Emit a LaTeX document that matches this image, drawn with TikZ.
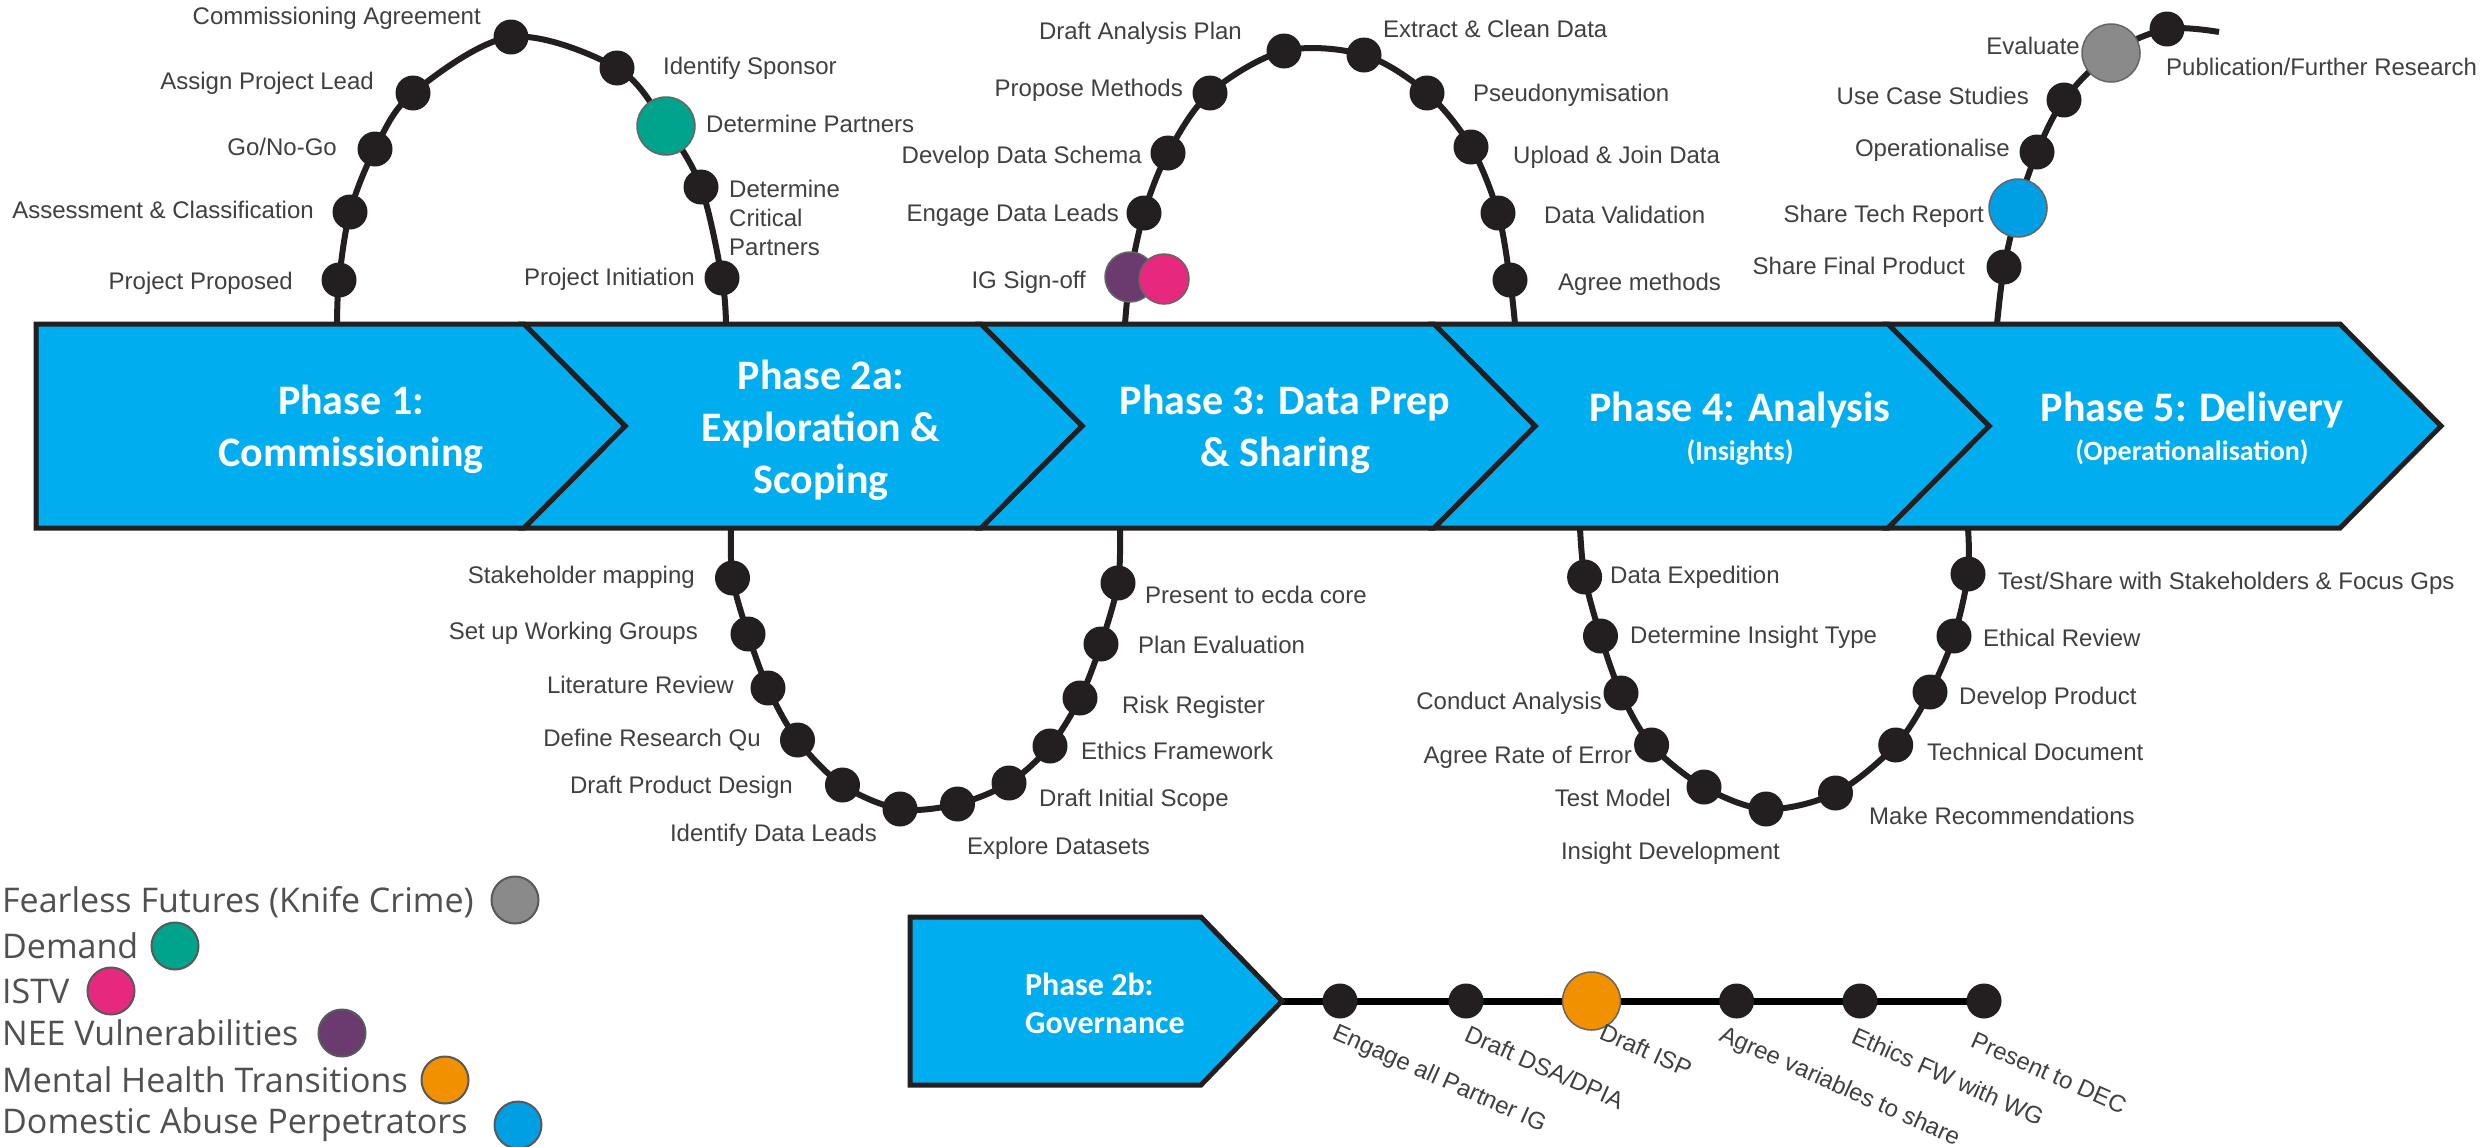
\documentclass[tikz,border=0pt]{standalone}
\usepackage{fontspec}
\setmainfont{Liberation Sans}
\newfontfamily\calfont{Carlito}
\newfontfamily\legfont{Open Sans}
\usetikzlibrary{backgrounds}
\definecolor{band}{HTML}{00AEEF}
\definecolor{ink}{HTML}{231F20}
\definecolor{txt}{HTML}{404040}
\definecolor{legtxt}{HTML}{505050}
\definecolor{cgray}{HTML}{8A8A8A}
\definecolor{cteal}{HTML}{00A38B}
\definecolor{cpink}{HTML}{E6287F}
\definecolor{cpurple}{HTML}{6B3A6E}
\definecolor{corange}{HTML}{F29100}
\definecolor{cblue}{HTML}{009FE3}
\newcommand\mylabE[3]{\node[lbl,anchor=east] (#1) at (#2) {#3};}
\newcommand\mylabW[3]{\node[lbl,anchor=west] (#1) at (#2) {#3};}
\begin{document}
\begin{tikzpicture}[x=1pt,y=-1pt,
 blackdot/.style={circle, fill=ink, minimum size=35pt, inner sep=0pt},
 bigdot/.style={circle, draw=black!60, line width=1.5pt, minimum size=58pt, inner sep=0pt},
 meddot/.style={circle, draw=black!60, line width=1.5pt, minimum size=50pt, inner sep=0pt},
 legdot/.style={circle, draw=black!65, line width=2pt, minimum size=47pt, inner sep=0pt},
 lbl/.style={font=\fontsize{24}{29}\selectfont, text=txt, inner sep=0pt, text height=17pt, text depth=5pt},
 lblml/.style={font=\fontsize{24}{29}\selectfont, text=txt, inner sep=0pt, align=left},
 rlbl/.style={font=\fontsize{24}{29}\selectfont, text=txt, inner sep=0pt, rotate=-24, anchor=north west},
 track/.style={draw=ink, line width=6pt},
 chev/.style={fill=band, draw=ink, line width=5pt, line join=miter},
 phase/.style={font=\calfont\bfseries\fontsize{42}{52}\selectfont, text=white, align=center, inner sep=0pt},
 phasesub/.style={font=\calfont\bfseries\fontsize{28}{32}\selectfont, text=white, inner sep=0pt},
 gphase/.style={font=\calfont\bfseries\fontsize{32}{38}\selectfont, text=white, align=left, inner sep=0pt},
 legtext/.style={font=\legfont\fontsize{34}{40}\selectfont, text=legtxt, inner sep=0pt, anchor=west}
]
\useasboundingbox (0,0) rectangle (2484,1146);
\begin{scope}[on background layer]
\fill[white] (0,0) rectangle (2484,1146);
\end{scope}

% ---------- main band ----------
\draw[chev] (1888,324) -- (2340,324) -- (2441,426) -- (2340,528) -- (1888,528) -- (1989,426) -- cycle;
\draw[chev] (1434,324) -- (1888,324) -- (1989,426) -- (1888,528) -- (1434,528) -- (1535,426) -- cycle;
\draw[chev] (981,324) -- (1434,324) -- (1535,426) -- (1434,528) -- (981,528) -- (1082,426) -- cycle;
\draw[chev] (524,324) -- (981,324) -- (1082,426) -- (981,528) -- (524,528) -- (625,426) -- cycle;
\draw[chev] (36,324) -- (524,324) -- (625,426) -- (524,528) -- (36,528) -- cycle;

\node[phase] (p1) at (351,429) {Phase 1:\\Commissioning};
\node[phase] (p2a) at (821,430) {Phase 2a:\\Exploration \&\\Scoping};
\node[phase] (p3) at (1285,429) {Phase 3: Data Prep\\\& Sharing};
\node[phase] (p4) at (1740,410) {Phase 4: Analysis};
\node[phasesub] (p4s) at (1740,452) {(Insights)};
\node[phase] (p5) at (2192,410) {Phase 5: Delivery};
\node[phasesub] (p5s) at (2192,452) {(Operationalisation)};

% ---------- Phase 2b ----------
\draw[chev] (910,917) -- (1201,917) -- (1282,1001) -- (1201,1085) -- (910,1085) -- cycle;
\coordinate (gtip) at (1282,1001);
\node[gphase, anchor=west] (p2b) at (1025,1003) {Phase 2b:\\Governance};

% ---------- loop 1 ----------
\coordinate (a0) at (337,324);
\node[blackdot] (a1) at (339,280) {};
\node[blackdot] (a2) at (350,212) {};
\node[blackdot] (a3) at (375,149) {};
\node[blackdot] (a4) at (413,93) {};
\node[blackdot] (a5) at (511,37) {};
\node[blackdot] (a6) at (617,68) {};
\node[bigdot, fill=cteal] (a7) at (666,126) {};
\node[blackdot] (a8) at (701,187) {};
\node[blackdot] (a9) at (722,278) {};
\coordinate (a10) at (726,324);
\mylabE{ta1}{293,283}{Project Proposed}
\mylabE{ta2}{314,212}{Assessment \& Classification}
\mylabE{ta3}{337,149}{Go/No-Go}
\mylabE{ta4}{374,83}{Assign Project Lead}
\mylabE{ta5}{481,18}{Commissioning Agreement}
\mylabW{ta6}{663,68}{Identify Sponsor}
\mylabW{ta7}{706,126}{Determine Partners}
\node[lblml, anchor=west] (ta8) at (729,218) {Determine\\Critical\\Partners};
\mylabE{ta9}{695,279}{Project Initiation}

% ---------- loop 2 ----------
\coordinate (b0) at (1125,324);
\node[meddot, fill=cpurple] (b1) at (1130,277) {};
\node[meddot, fill=cpink] (b1x) at (1164,279) {};
\node[blackdot] (b2) at (1144,213) {};
\node[blackdot] (b3) at (1168,153) {};
\node[blackdot] (b4) at (1210,93) {};
\node[blackdot] (b5) at (1284,51) {};
\node[blackdot] (b6) at (1364,55) {};
\node[blackdot] (b7) at (1427,93) {};
\node[blackdot] (b8) at (1471,147) {};
\node[blackdot] (b9) at (1498,213) {};
\node[blackdot] (b10) at (1510,280) {};
\coordinate (b11) at (1515,324);
\mylabE{tb1}{1086,282}{IG Sign-off}
\mylabE{tb2}{1119,215}{Engage Data Leads}
\mylabE{tb3}{1142,157}{Develop Data Schema}
\mylabE{tb4}{1183,90}{Propose Methods}
\mylabE{tb5}{1242,33}{Draft Analysis Plan}
\mylabW{tb6}{1383,31}{Extract \& Clean Data}
\mylabW{tb7}{1473,95}{Pseudonymisation}
\mylabW{tb8}{1513,157}{Upload \& Join Data}
\mylabW{tb9}{1544,217}{Data Validation}
\mylabW{tb10}{1558,284}{Agree methods}

% ---------- loop 3 ----------
\coordinate (c0) at (1997,324);
\node[blackdot] (c1) at (2004,267) {};
\node[bigdot, fill=cblue] (c2) at (2018,208) {};
\node[blackdot] (c3) at (2037,152) {};
\node[blackdot] (c4) at (2064,100) {};
\node[bigdot, fill=cgray] (c5) at (2111,53) {};
\node[blackdot] (c6) at (2167,29) {};
\coordinate (c7) at (2219,32);
\mylabE{tc1}{1965,268}{Share Final Product}
\mylabE{tc2}{1984,216}{Share Tech Report}
\mylabE{tc3}{2010,150}{Operationalise}
\mylabE{tc4}{2029,98}{Use Case Studies}
\mylabE{tc5}{2080,48}{Evaluate}
\mylabW{tc6}{2166,69}{Publication/Further Research}

% ---------- bottom loop A ----------
\coordinate (d0) at (731,528);
\node[blackdot] (d1) at (732.5,578) {};
\node[blackdot] (d2) at (748,634) {};
\node[blackdot] (d3) at (768,688) {};
\node[blackdot] (d4) at (797.5,740) {};
\node[blackdot] (d5) at (842.5,785) {};
\node[blackdot] (d6) at (900,809) {};
\node[blackdot] (d7) at (957.5,804) {};
\node[blackdot] (d8) at (1009,783) {};
\node[blackdot] (d9) at (1050,746) {};
\node[blackdot] (d10) at (1080,698) {};
\node[blackdot] (d11) at (1101,644) {};
\node[blackdot] (d12) at (1118,583) {};
\coordinate (d13) at (1120,528);
\mylabE{td1}{695,577}{Stakeholder mapping}
\mylabE{td2}{698,633}{Set up Working Groups}
\mylabE{td3}{734,687}{Literature Review}
\mylabE{td4}{761,740}{Define Research Qu}
\mylabE{td5}{793,787}{Draft Product Design}
\mylabE{td6}{877,835}{Identify Data Leads}
\mylabW{td7}{967,848}{Explore Datasets}
\mylabW{td8}{1039,800}{Draft Initial Scope}
\mylabW{td9}{1081,753}{Ethics Framework}
\mylabW{td10}{1122,707}{Risk Register}
\mylabW{td11}{1138,647}{Plan Evaluation}
\mylabW{td12}{1145,597}{Present to ecda core}

% ---------- bottom loop B ----------
\coordinate (e0) at (1580,528);
\node[blackdot] (e1) at (1584.6,577) {};
\node[blackdot] (e2) at (1600.5,636) {};
\node[blackdot] (e3) at (1621,693) {};
\node[blackdot] (e4) at (1651.6,745) {};
\node[blackdot] (e5) at (1704,787) {};
\node[blackdot] (e6) at (1766,809) {};
\node[blackdot] (e7) at (1835.5,793) {};
\node[blackdot] (e8) at (1895.7,745) {};
\node[blackdot] (e9) at (1930,692) {};
\node[blackdot] (e10) at (1954,636) {};
\node[blackdot] (e11) at (1968,574) {};
\coordinate (e12) at (1968,528);
\mylabW{te1}{1610,577}{Data Expedition}
\mylabW{te2}{1630,637}{Determine Insight Type}
\mylabE{te3}{1602,703}{Conduct Analysis}
\mylabE{te4}{1632,757}{Agree Rate of Error}
\mylabE{te5}{1671,800}{Test Model}
\mylabE{te6}{1780,853}{Insight Development}
\mylabW{te7}{1869,818}{Make Recommendations}
\mylabW{te8}{1927,754}{Technical Document}
\mylabW{te9}{1959,698}{Develop Product}
\mylabW{te10}{1983,640}{Ethical Review}
\mylabW{te11}{1998,583}{Test/Share with Stakeholders \& Focus Gps}

% ---------- governance line ----------
\node[blackdot] (g1) at (1340,1001) {};
\node[blackdot] (g2) at (1466,1001) {};
\node[bigdot, fill=corange] (g3) at (1591.5,1001) {};
\node[blackdot] (g4) at (1736.6,1001) {};
\node[blackdot] (g5) at (1860,1001) {};
\node[blackdot] (g6) at (1984,1001) {};
\node[rlbl] (tg1) at (1338,1022) {Engage all Partner IG};
\node[rlbl] (tg2) at (1470,1024) {Draft DSA/DPIA};
\node[rlbl] (tg3) at (1605,1022) {Draft ISP};
\node[rlbl] (tg4) at (1725,1024) {Agree variables to share};
\node[rlbl] (tg5) at (1857,1026) {Ethics FW with WG};
\node[rlbl] (tg6) at (1976,1031) {Present to DEC};

% ---------- tracks (behind) ----------
\begin{scope}[on background layer]
\draw[track] plot[smooth, tension=0.55] coordinates {(a0) (a1.center) (a2.center) (a3.center) (a4.center) (a5.center) (a6.center) (a7.center) (a8.center) (a9.center) (a10)};
\draw[track] plot[smooth, tension=0.55] coordinates {(b0) (b1.center) (b2.center) (b3.center) (b4.center) (b5.center) (b6.center) (b7.center) (b8.center) (b9.center) (b10.center) (b11)};
\draw[track] plot[smooth, tension=0.55] coordinates {(c0) (c1.center) (c2.center) (c3.center) (c4.center) (c5.center) (c6.center) (c7)};
\draw[track] plot[smooth, tension=0.55] coordinates {(d0) (d1.center) (d2.center) (d3.center) (d4.center) (d5.center) (d6.center) (d7.center) (d8.center) (d9.center) (d10.center) (d11.center) (d12.center) (d13)};
\draw[track] plot[smooth, tension=0.55] coordinates {(e0) (e1.center) (e2.center) (e3.center) (e4.center) (e5.center) (e6.center) (e7.center) (e8.center) (e9.center) (e10.center) (e11.center) (e12)};
\draw[draw=black, line width=7pt] (gtip) -- (g6.center);
\end{scope}

% ---------- legend ----------
\node[legtext] (lt1) at (2,902) {Fearless Futures (Knife Crime)};
\node[legdot, fill=cgray] (ld1) at (515,900) {};
\node[legtext] (lt2) at (2,946) {Demand};
\node[legdot, fill=cteal] (ld2) at (175,946) {};
\node[legtext] (lt3) at (2,991) {ISTV};
\node[legdot, fill=cpink] (ld3) at (111,991) {};
\node[legtext] (lt4) at (2,1033) {NEE Vulnerabilities};
\node[legdot, fill=cpurple] (ld4) at (342,1033) {};
\node[legtext] (lt5) at (2,1080) {Mental Health Transitions};
\node[legdot, fill=corange] (ld5) at (445,1080) {};
\node[legtext] (lt6) at (2,1125) {Domestic Abuse Perpetrators};
\node[legdot, fill=cblue] (ld6) at (518,1125) {};
\end{tikzpicture}
\end{document}
